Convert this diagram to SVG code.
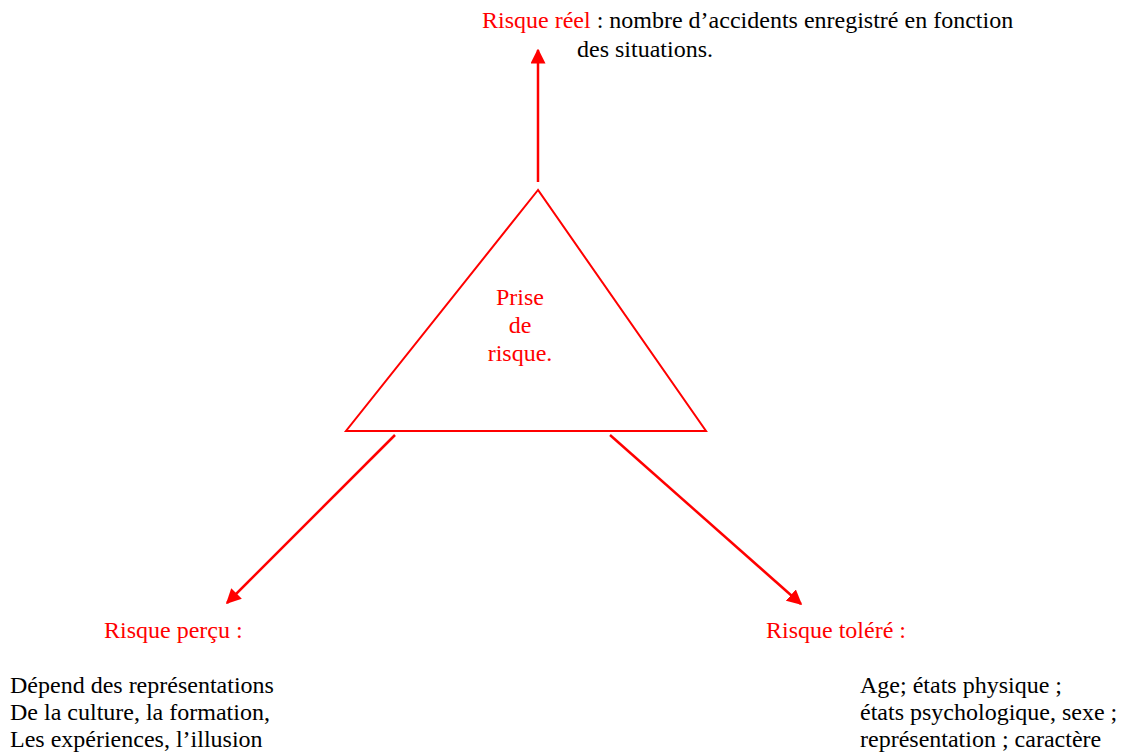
<svg xmlns="http://www.w3.org/2000/svg" width="1125" height="753" viewBox="0 0 1125 753">
<style>
text{font-family:"Liberation Serif","Times New Roman",serif;font-size:24px;fill:#000}
.r{fill:#ff0000}
.ln{stroke:#ff0000;stroke-width:2.5;fill:none}
</style>
<defs>
<marker id="ah" viewBox="0 0 10 10" refX="9" refY="5" markerWidth="6" markerHeight="6" markerUnits="strokeWidth" orient="auto">
<path d="M0,0 L10,5 L0,10 z" fill="#ff0000"/>
</marker>
</defs>
<rect width="1125" height="753" fill="#fff"/>
<g id="connectors">
<line class="ln" x1="538" y1="182" x2="538" y2="50" marker-end="url(#ah)"/>
<line class="ln" x1="395" y1="435" x2="227" y2="603" marker-end="url(#ah)"/>
<line class="ln" x1="610" y1="435" x2="801" y2="604" marker-end="url(#ah)"/>
</g>
<g id="triangle">
<polygon points="538,190 346,431 706,431" fill="none" stroke="#ff0000" stroke-width="2"/>
<text class="r" x="520" y="305" text-anchor="middle">Prise</text>
<text class="r" x="520" y="333" text-anchor="middle">de</text>
<text class="r" x="520" y="361" text-anchor="middle">risque.</text>
</g>
<g id="reel">
<text x="482" y="28"><tspan class="r">Risque réel</tspan> : nombre d’accidents enregistré en fonction</text>
<text x="577" y="57">des situations.</text>
</g>
<g id="percu">
<text class="r" x="104" y="638">Risque perçu :</text>
<text x="10" y="693">Dépend des représentations</text>
<text x="10" y="720">De la culture, la formation,</text>
<text x="10" y="747">Les expériences, l’illusion</text>
</g>
<g id="tolere">
<text class="r" x="766" y="638">Risque toléré :</text>
<text x="860" y="693">Age; états physique ;</text>
<text x="860" y="720">états psychologique, sexe ;</text>
<text x="860" y="747">représentation ; caractère</text>
</g>
</svg>
